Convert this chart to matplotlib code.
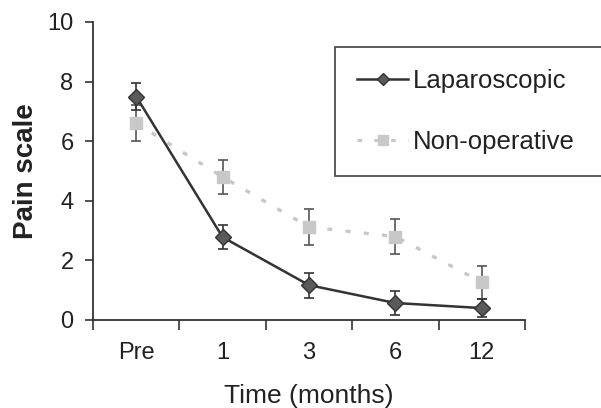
import matplotlib
matplotlib.use("Agg")
import matplotlib.pyplot as plt
from matplotlib.lines import Line2D
import numpy as np

plt.rcParams['font.family'] = ['Liberation Sans', 'DejaVu Sans']

categories = ["Pre", "1", "3", "6", "12"]
lap_vals = [7.5, 2.78, 1.17, 0.57, 0.4]
lap_err = [0.45, 0.4, 0.42, 0.4, 0.3]
non_vals = [6.6, 4.8, 3.12, 2.8, 1.27]
non_err = [0.6, 0.58, 0.6, 0.58, 0.55]

lap_color = '#333333'
non_color = '#c8c8c8'

fig = plt.figure(figsize=(6.01, 4.08), dpi=100)
ax = fig.add_axes([93 / 601, 1 - 320 / 408, 432 / 601, 298 / 408])

x = np.arange(len(categories))
ax.errorbar(x, non_vals, yerr=non_err, color=non_color, ls=(0, (1.5, 4)), lw=2.4,
            marker='s', ms=8.5, mec=non_color, mfc=non_color, ecolor='#555555',
            elinewidth=1.2, capsize=3.5, capthick=1.2, zorder=2)
ax.errorbar(x, lap_vals, yerr=lap_err, color=lap_color, ls='-', lw=1.8,
            marker='D', ms=8, mec='#333333', mfc='#5a5a5a', ecolor='#333333',
            elinewidth=1.2, capsize=3.5, capthick=1.2, zorder=3)

ax.set_xlim(-0.5, len(categories) - 0.5)
ax.set_ylim(0, 10)
ax.set_yticks([0, 2, 4, 6, 8, 10])
ax.set_xticks(x)
ax.set_xticklabels(categories)
ax.set_xticks(np.arange(-0.5, len(categories), 1.0), minor=True)
ax.tick_params(axis='x', which='major', length=0, pad=16, labelsize=17, colors='#222222')
ax.tick_params(axis='x', which='minor', length=7, width=1.2, direction='out', color='#333333')
ax.tick_params(axis='y', length=6, width=1.2, direction='out', pad=8, labelsize=17,
               colors='#222222', color='#333333')
for s in ['top', 'right']:
    ax.spines[s].set_visible(False)
for s in ['left', 'bottom']:
    ax.spines[s].set_linewidth(1.3)
    ax.spines[s].set_color('#333333')

ax.set_ylabel('Pain scale', fontsize=20, fontweight='bold', color='#222222', labelpad=6)
ax.set_xlabel('Time (months)', fontsize=19, color='#222222', labelpad=14)

handles = [
    Line2D([], [], color=lap_color, lw=1.8, marker='D', ms=6.5, mec='#333333', mfc='#5a5a5a'),
    Line2D([], [], color=non_color, lw=2.2, ls=(0, (1.5, 4)), marker='s', ms=7,
           mec=non_color, mfc=non_color),
]
labels = ['Laparoscopic', 'Non-operative']
leg = fig.legend(handles, labels, loc='upper left', mode='expand',
                 bbox_to_anchor=(335 / 601, 1 - 47 / 408, 280 / 601, 0), fontsize=18.5,
                 frameon=True, fancybox=False, edgecolor='#222222',
                 handlelength=2.0, handletextpad=0.2, borderpad=0.85,
                 labelspacing=1.45, borderaxespad=0)
leg.get_frame().set_linewidth(1.3)
for t in leg.get_texts():
    t.set_color('#222222')

fig.savefig('out.png', dpi=100)
